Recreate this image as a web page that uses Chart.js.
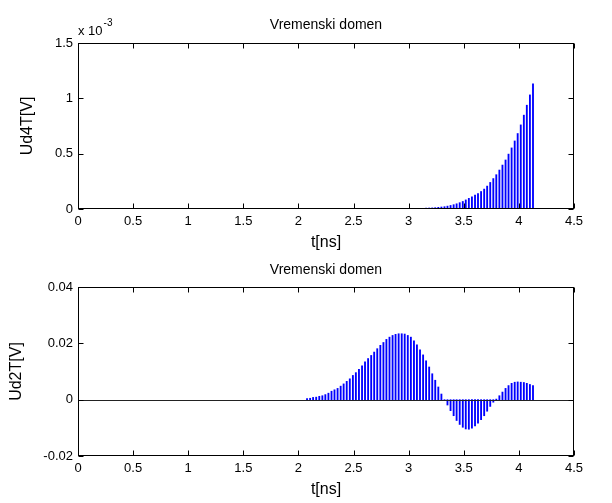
<!DOCTYPE html>
<html><head><meta charset="utf-8">
<script src="https://cdn.jsdelivr.net/npm/chart.js@4.4.1/dist/chart.umd.min.js"></script>
<style>
html,body{margin:0;padding:0;background:#fff;}
#wrap{position:relative;width:612px;height:503px;overflow:hidden;background:#fff;}
canvas{position:absolute;left:0;}
</style></head><body>
<div id="wrap">
<canvas id="c1" width="612" height="251" style="top:0px"></canvas>
<canvas id="c2" width="612" height="252" style="top:251px"></canvas>
</div>
<script>
// sample times [ns] of the visible stems
const tNs = [
 2.078, 2.106, 2.133, 2.161, 2.189, 2.217, 2.244, 2.272, 2.300, 2.327,
 2.355, 2.383, 2.410, 2.438, 2.466, 2.494, 2.521, 2.549, 2.577, 2.604,
 2.632, 2.660, 2.687, 2.715, 2.743, 2.771, 2.798, 2.826, 2.854, 2.881,
 2.909, 2.937, 2.964, 2.992, 3.020, 3.048, 3.075, 3.103, 3.131, 3.158,
 3.186, 3.214, 3.241, 3.269, 3.297, 3.325, 3.352, 3.380, 3.408, 3.435,
 3.463, 3.491, 3.518, 3.546, 3.574, 3.602, 3.629, 3.657, 3.685, 3.712,
 3.740, 3.768, 3.795, 3.823, 3.851, 3.879, 3.906, 3.934, 3.962, 3.989,
 4.017, 4.045, 4.072, 4.100, 4.128
];
// Ud4T in units of 10^-3 V
const ud4T_e3 = [
 0,0,0,0,0,0,0,0,0,0, 0,0,0,0,0,0,0,0,0,0,
 0,0,0,0,0,0,0,0,0,0, 0,0,0,0,0,0,0,0,0,
 0.008,0.009,0.010,0.012,0.015,0.018,0.021,0.026,0.032,0.039,
 0.047,0.057,0.068,0.082,0.096,0.110,0.125,0.140,0.158,0.180,
 0.207,0.240,0.275,0.310,0.352,0.397,0.443,0.496,0.552,0.615,
 0.682,0.760,0.848,0.938,1.031,1.130
];
// Ud2T in V
const ud2T = [
 0.0004,0.0005,0.0008,0.0009,0.0012,0.0014,0.0018,0.0023,0.0030,0.0035,
 0.0040,0.0048,0.0056,0.0065,0.0074,0.0086,0.0096,0.0108,0.0120,0.0134,
 0.0146,0.0157,0.0169,0.0181,0.0193,0.0203,0.0214,0.0222,0.0228,0.0232,
 0.0234,0.0234,0.0233,
 0.0228,0.0222,0.0209,0.0195,0.0177,0.0159,0.0138,0.0116,0.0092,0.0069,
 0.0045,0.0020,-0.0003,-0.0019,-0.0039,-0.0057,-0.0074,-0.0088,-0.0098,-0.0104,
 -0.0105,-0.0101,-0.0093,-0.0083,-0.0071,-0.0057,-0.0041,-0.0024,-0.0009,0.0002,
 0.0014,0.0027,0.0040,0.0050,0.0058,0.0062,0.0063,0.0062,0.0061,0.0058,
 0.0054,0.0050
];
const xTicks = [0,0.5,1,1.5,2,2.5,3,3.5,4,4.5];
const yTicksTop = [0,0.5,1,1.5];
const yTicksBottom = [-0.02,0,0.02,0.04];
const titleText = 'Vremenski domen';
const xLabel = 't[ns]';
const yLabelTop = 'Ud4T[V]';
const yLabelBottom = 'Ud2T[V]';
const FONT = '"Liberation Sans", Arial, Helvetica, sans-serif';

function fmt(v){ return String(Math.round(v*1000)/1000); }

const framePlugin = {
  id:'frame',
  afterDraw(chart, args, o){
    const ctx=chart.ctx, a=chart.chartArea, xs=chart.scales.x, ys=chart.scales.y;
    ctx.save();
    const L=Math.round(a.left)+0.5, R=Math.round(a.right)-0.5, T=Math.round(a.top)+0.5, B=Math.round(a.bottom)-0.5;
    if(o.baseline){
      const y0=Math.round(ys.getPixelForValue(0))+0.5;
      ctx.strokeStyle='#222'; ctx.lineWidth=1;
      ctx.beginPath(); ctx.moveTo(L,y0); ctx.lineTo(R,y0); ctx.stroke();
    }
    ctx.strokeStyle='#000'; ctx.lineWidth=1;
    ctx.strokeRect(L,T,R-L,B-T);
    const tl=5;
    ctx.beginPath();
    o.xTicks.forEach(v=>{const x=Math.round(xs.getPixelForValue(v))+0.5; ctx.moveTo(x,B); ctx.lineTo(x,B-tl); ctx.moveTo(x,T); ctx.lineTo(x,T+tl);});
    o.yTicks.forEach(v=>{const y=Math.round(ys.getPixelForValue(v))+0.5; ctx.moveTo(L,y); ctx.lineTo(L+tl,y); ctx.moveTo(R,y); ctx.lineTo(R-tl,y);});
    ctx.stroke();
    ctx.fillStyle='#000'; ctx.textAlign='center'; ctx.textBaseline='middle';
    ctx.font='14px '+FONT;
    ctx.fillText(o.title,(a.left+a.right)/2,o.titleY);
    ctx.font='16px '+FONT;
    ctx.fillText(o.xLabel,(a.left+a.right)/2,o.xLabelY);
    ctx.save(); ctx.translate(o.yLabelX,(a.top+a.bottom)/2); ctx.rotate(-Math.PI/2); ctx.fillText(o.yLabel,0,0); ctx.restore();
    if(o.exponent){
      ctx.textAlign='left'; ctx.font='13px '+FONT;
      ctx.fillText('x 10',a.left,o.expY);
      const w=ctx.measureText('x 10').width;
      ctx.font='10px '+FONT;
      ctx.fillText(o.exponent,a.left+w+1,o.expY-8);
    }
    ctx.restore();
  }
};

function makeChart(id, values, yMin, yMax, yTicks, pad, frameOpts){
  return new Chart(document.getElementById(id), {
    type:'bar',
    data:{datasets:[{data: tNs.map((t,i)=>({x:t,y:values[i]})), backgroundColor:'rgb(0,0,255)', borderWidth:0, barThickness:1.2}]},
    options:{
      responsive:false, animation:false, events:[],
      layout:{padding:pad},
      plugins:{legend:{display:false}, tooltip:{enabled:false}, title:{display:false}, frame:frameOpts},
      scales:{
        x:{type:'linear', min:0, max:4.5, offset:false,
           grid:{display:false, drawTicks:false}, border:{display:false},
           afterBuildTicks:s=>{s.ticks=xTicks.map(v=>({value:v}));},
           afterFit:s=>{s.height=30;},
           ticks:{autoSkip:false, maxRotation:0, padding:5, color:'#000', font:{family:FONT,size:13}, callback:v=>fmt(v)}},
        y:{type:'linear', min:yMin, max:yMax,
           grid:{display:false, drawTicks:false}, border:{display:false},
           afterBuildTicks:s=>{s.ticks=yTicks.map(v=>({value:v}));},
           afterFit:s=>{s.width=60;},
           ticks:{autoSkip:false, padding:5, color:'#000', font:{family:FONT,size:13}, callback:v=>fmt(v)}}
      }
    },
    plugins:[framePlugin]
  });
}

makeChart('c1', ud4T_e3, 0, 1.5, yTicksTop, {left:18,right:38,top:43,bottom:12},
  {title:titleText, titleY:25, xLabel:xLabel, xLabelY:243, yLabel:yLabelTop, yLabelX:28,
   exponent:'-3', expY:31, xTicks:xTicks, yTicks:yTicksTop, baseline:false});
makeChart('c2', ud2T, -0.02, 0.04, yTicksBottom, {left:18,right:38,top:36,bottom:17},
  {title:titleText, titleY:19, xLabel:xLabel, xLabelY:239, yLabel:yLabelBottom, yLabelX:17,
   exponent:null, xTicks:xTicks, yTicks:yTicksBottom, baseline:true});
</script>
</body></html>
